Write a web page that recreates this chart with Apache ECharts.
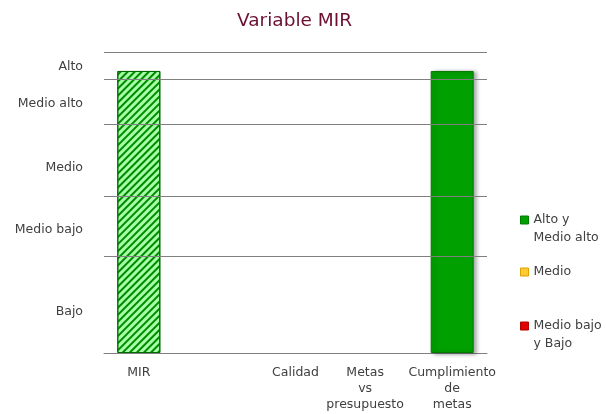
<!DOCTYPE html>
<html>
<head>
<meta charset="utf-8">
<title>Variable MIR</title>
<script src="https://cdn.jsdelivr.net/npm/echarts@6/dist/echarts.min.js"></script>
<style>
    html, body { margin: 0; padding: 0; background: #fff; }
    #chart { width: 606px; height: 414px; }
</style>
</head>
<body>
<div id="chart"></div>
<script>
// chart data
var categories = ['MIR', 'Calidad', 'Metas\nvs\npresupuesto', 'Cumplimiento\nde\nmetas'];
var altoValues = [93.7, null, null, 93.7];
var medioValues = [null, null, null, null];
var bajoValues = [null, null, null, null];
var hatched = [true, false, false, false];
var levelNames = ['Bajo', 'Medio bajo', 'Medio', 'Medio alto', 'Alto'];
var levelBounds = [0, 32, 52, 76, 91, 100];
var seriesNames = ['Alto y\nMedio alto', 'Medio', 'Medio bajo\ny Bajo'];

// layout: categories sit on a fine 23-slot axis so labels land where the original put them
var slotCount = 23;
var slots = [2, 11, 15, 20];
var seriesColors = ['#00a000', '#ffcc33', '#e00000'];
var seriesBorders = ['#007a00', '#e0a000', '#b00000'];
var legendTops = [193, 263, 299];
var levelLabelShift = [6.5, 3.5, 7.5, 2.5, 1];
var textColor = '#404040';
var font = 'DejaVu Sans';
var fontSize = 12.5;

var axisLabels = [];
for (var i = 0; i < slotCount; i++) {
    axisLabels.push('');
}
for (var i = 0; i < categories.length; i++) {
    axisLabels[slots[i]] = categories[i];
}

function toSlots(values) {
    var out = [];
    for (var i = 0; i < slotCount; i++) {
        out.push(null);
    }
    for (var i = 0; i < values.length; i++) {
        if (values[i] == null) continue;
        var item = { value: values[i] };
        if (hatched[i]) {
            item.itemStyle = {
                color: '#a6ffa6',
                borderColor: '#006a00',
                shadowBlur: 0,
                shadowOffsetX: 0,
                shadowOffsetY: 0,
                decal: {
                    symbol: 'rect',
                    symbolSize: 1,
                    dashArrayX: [1, 0],
                    dashArrayY: [2, 2.5],
                    rotation: -Math.PI / 4,
                    color: '#008a00'
                }
            };
        }
        out[slots[i]] = item;
    }
    return out;
}

var gridLines = [];
for (var i = 1; i < levelBounds.length; i++) {
    gridLines.push({ yAxis: levelBounds[i] });
}
var levelAreas = [];
for (var i = 0; i < levelNames.length; i++) {
    levelAreas.push([
        { yAxis: levelBounds[i], name: levelNames[i], label: { offset: [0, levelLabelShift[i]] } },
        { yAxis: levelBounds[i + 1] }
    ]);
}

var allValues = [altoValues, medioValues, bajoValues];
var series = [];
for (var k = 0; k < seriesNames.length; k++) {
    var s = {
        name: seriesNames[k],
        type: 'bar',
        stack: 'level',
        barWidth: 43,
        data: toSlots(allValues[k]),
        itemStyle: {
            color: seriesColors[k],
            borderColor: seriesBorders[k],
            borderWidth: 1,
            shadowColor: 'rgba(0,0,0,0.35)',
            shadowBlur: 4,
            shadowOffsetX: 3,
            shadowOffsetY: 1
        }
    };
    if (k == 0) {
        s.markLine = {
            silent: true,
            symbol: 'none',
            label: { show: false },
            lineStyle: { color: '#808080', width: 1, type: 'solid' },
            data: gridLines
        };
        s.markArea = {
            silent: true,
            itemStyle: { color: 'transparent' },
            label: {
                position: 'left',
                distance: 21,
                color: textColor,
                fontFamily: font,
                fontSize: fontSize
            },
            data: levelAreas
        };
    }
    series.push(s);
}

var legends = [];
for (var k = 0; k < seriesNames.length; k++) {
    var twoLines = seriesNames[k].indexOf('\n') >= 0;
    legends.push({
        data: [seriesNames[k]],
        orient: 'vertical',
        left: 520,
        top: legendTops[k],
        padding: 0,
        icon: 'rect',
        itemWidth: 8,
        itemHeight: 8,
        itemGap: 0,
        selectedMode: false,
        // a blank first line keeps the square level with the first text line
        formatter: twoLines ? function (name) { return ' \n' + name; } : '{name}',
        itemStyle: { shadowBlur: 0, shadowOffsetX: 0, shadowOffsetY: 0, borderWidth: 1 },
        textStyle: {
            color: textColor,
            fontFamily: font,
            fontSize: fontSize,
            lineHeight: 18
        }
    });
}

var myChart = echarts.init(document.getElementById('chart'));
var option = {
    animation: false,
    title: {
        text: 'Variable MIR',
        left: 232,
        top: 7,
        textStyle: { color: '#6b0f33', fontFamily: font, fontSize: 18.5, fontWeight: 'normal' }
    },
    legend: legends,
    grid: { left: 104, right: 119, top: 52, bottom: 61 },
    xAxis: {
        type: 'category',
        data: axisLabels,
        boundaryGap: false,
        axisLine: { lineStyle: { color: '#808080', width: 1 } },
        axisTick: { show: false },
        axisLabel: {
            interval: 0,
            color: textColor,
            fontFamily: font,
            fontSize: fontSize,
            lineHeight: 16,
            margin: 12
        }
    },
    yAxis: {
        type: 'value',
        min: 0,
        max: 100,
        axisLine: { show: false },
        axisTick: { show: false },
        axisLabel: { show: false },
        splitLine: { show: false }
    },
    series: series
};
myChart.setOption(option);
</script>
</body>
</html>
